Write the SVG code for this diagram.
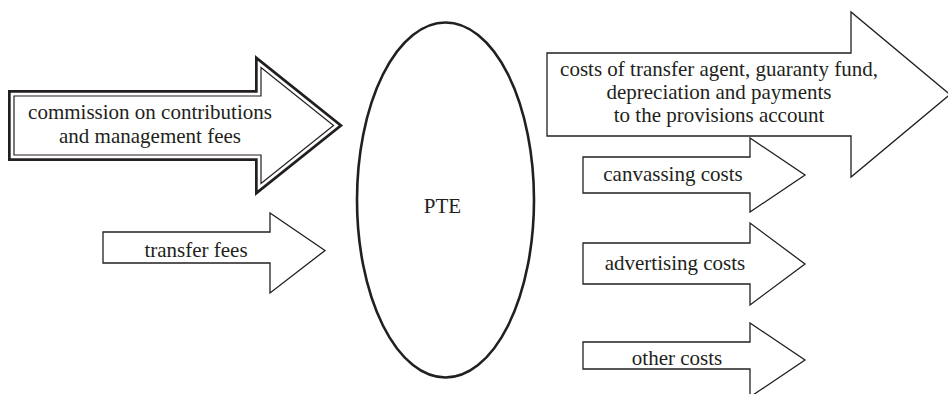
<svg xmlns="http://www.w3.org/2000/svg" width="948" height="394" viewBox="0 0 948 394">
<style>
text{font-family:'Liberation Serif','DejaVu Serif',serif;font-size:21px;fill:#231f20;text-anchor:middle}
.arr{fill:#fff;stroke:#231f20;stroke-width:1.3;stroke-linejoin:miter}
</style>
<rect width="948" height="394" fill="#fff"/>
<g id="connectors" font-family="Liberation Serif, serif">
<g id="commission">
<path d="M14,96 H261 V67.5 L333.5,125.5 L261,183.5 V155 H14 Z" fill="none" stroke="#231f20" stroke-width="12"/>
<path d="M14,96 H261 V67.5 L333.5,125.5 L261,183.5 V155 H14 Z" fill="#fff" stroke="#fff" stroke-width="6.6"/>
<path d="M14,96 H261 V67.5 L333.5,125.5 L261,183.5 V155 H14 Z" fill="#fff" stroke="#231f20" stroke-width="1.2"/>
<text x="150" y="119">commission on contributions</text>
<text x="150" y="143">and management fees</text>
</g>
<g id="transfer">
<path class="arr" d="M103,232 H270 V213 L325,250.5 L270,293 V263 H103 Z"/>
<text x="196" y="257">transfer fees</text>
</g>
<g id="costs-big">
<path class="arr" d="M547,53 H851 V12 L950,94.5 L851,177 V136 H547 Z"/>
<text x="719" y="76">costs of transfer agent, guaranty fund,</text>
<text x="719" y="99">depreciation and payments</text>
<text x="719" y="122">to the provisions account</text>
</g>
<g id="canvassing">
<path class="arr" d="M583,157 H750 V138 L805,175 L750,212 V193 H583 Z"/>
<text x="673" y="181">canvassing costs</text>
</g>
<g id="advertising">
<path class="arr" d="M583,243 H750 V223 L805,264 L750,305 V284 H583 Z"/>
<text x="675" y="270">advertising costs</text>
</g>
<g id="other">
<path class="arr" d="M583,342 H750 V323 L805,360 L750,397 V369 H583 Z"/>
<text x="677" y="365">other costs</text>
</g>
</g>
<g id="pte">
<ellipse cx="445.5" cy="200" rx="88.5" ry="177.5" fill="#fff" stroke="#231f20" stroke-width="2.6"/>
<text x="442.5" y="213">PTE</text>
</g>
</svg>
